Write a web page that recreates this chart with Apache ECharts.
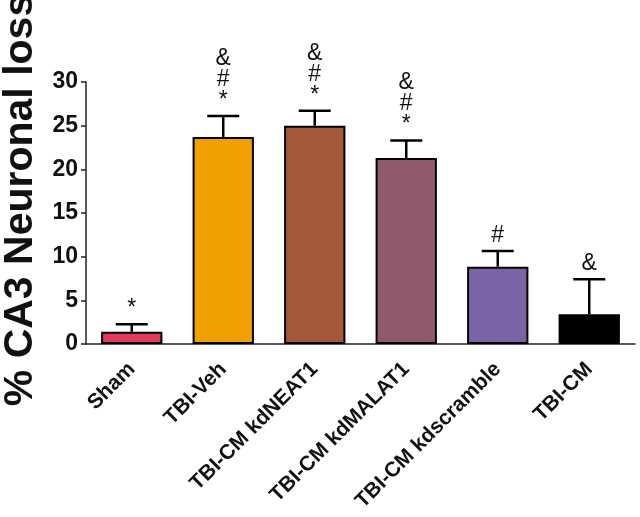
<!DOCTYPE html>
<html>
<head>
<meta charset="utf-8">
<script src="https://cdn.jsdelivr.net/npm/echarts@6/dist/echarts.min.js"></script>
<style>
  html, body { margin: 0; padding: 0; background: #fff; }
  #chart { width: 640px; height: 517px; }
</style>
</head>
<body>
<div id="chart"></div>
<script>
// group names on the x axis
const categories = ['Sham', 'TBI-Veh', 'TBI-CM kdNEAT1', 'TBI-CM kdMALAT1', 'TBI-CM kdscramble', 'TBI-CM']
// mean % CA3 neuronal loss
const means = [1.4, 23.7, 25.0, 21.3, 8.85, 3.4]
// upper error (SEM)
const errors = [0.85, 2.4, 1.7, 2.0, 1.8, 4.0]
// significance marks above each error bar
const marks = ['*', '&\n#\n*', '&\n#\n*', '&\n#\n*', '#', '&']
const barColors = ['#e2395d', '#f0a000', '#a6583a', '#8f5a6c', '#7b63a6', '#000000']
const yTicks = [0, 5, 10, 15, 20, 25, 30]

const font = '"Liberation Sans", Arial, sans-serif'
const chart = echarts.init(document.getElementById('chart'))

const option = {
  animation: false,
  backgroundColor: '#fff',
  grid: {
    left: 86,
    right: 5,
    top: 82,
    bottom: 173,
    containLabel: false,
    outerBoundsMode: 'none'
  },
  xAxis: {
    type: 'category',
    data: categories,
    axisLine: { lineStyle: { color: '#222', width: 1.5 } },
    axisTick: { alignWithLabel: true, length: 5, lineStyle: { color: '#222', width: 1.5 } },
    axisLabel: {
      rotate: 45,
      interval: 0,
      margin: 22,
      color: '#111',
      fontFamily: font,
      fontWeight: 'bold',
      fontSize: 21
    }
  },
  yAxis: {
    type: 'value',
    min: yTicks[0],
    max: yTicks[yTicks.length - 1],
    interval: 5,
    name: '% CA3 Neuronal loss',
    nameLocation: 'middle',
    nameGap: 44,
    nameTextStyle: {
      color: '#111',
      fontFamily: font,
      fontWeight: 'bold',
      fontSize: 41,
      padding: [0, 0, 0, 26]
    },
    axisLine: { show: true, lineStyle: { color: '#222', width: 1.5 } },
    axisTick: { show: true, length: 5, lineStyle: { color: '#222', width: 1.5 } },
    axisLabel: {
      margin: 8,
      color: '#111',
      fontFamily: font,
      fontWeight: 'bold',
      fontSize: 23
    },
    splitLine: { show: false }
  },
  series: [
    {
      type: 'bar',
      barCategoryGap: '33%',
      data: means.map((v, i) => ({
        value: v,
        itemStyle: { color: barColors[i] }
      })),
      itemStyle: { borderColor: '#000', borderWidth: 2 }
    },
    {
      type: 'custom',
      data: means.map((v, i) => [i, v, errors[i]]),
      z: 10,
      renderItem(params, api) {
        const i = api.value(0)
        const base = api.coord([i, api.value(1)])
        const top = api.coord([i, api.value(1) + api.value(2)])
        const half = 16
        const style = { stroke: '#000', lineWidth: 2.5 }
        return {
          type: 'group',
          children: [
            { type: 'line', shape: { x1: base[0], y1: base[1], x2: top[0], y2: top[1] }, style },
            { type: 'line', shape: { x1: top[0] - half, y1: top[1], x2: top[0] + half, y2: top[1] }, style },
            {
              type: 'text',
              x: top[0],
              y: top[1] - 5,
              style: {
                text: marks[params.dataIndex],
                align: 'center',
                verticalAlign: 'bottom',
                fontFamily: font,
                fontSize: 23,
                lineHeight: 21,
                fill: '#111'
              }
            }
          ]
        }
      }
    }
  ]
}

chart.setOption(option)
</script>
</body>
</html>
